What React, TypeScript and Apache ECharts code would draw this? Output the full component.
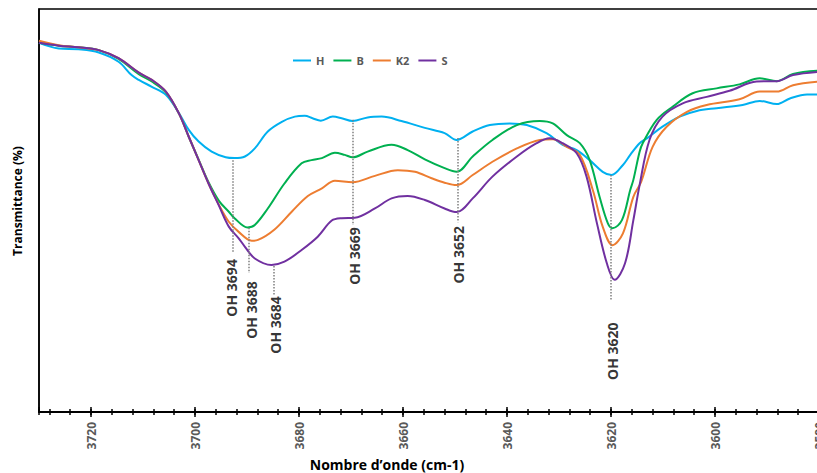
import React, { useEffect, useRef } from 'react';
import * as echarts from 'echarts';

const seriesNames = ['H', 'B', 'K2', 'S'];
const seriesColors = ['#00B0F0', '#00B050', '#ED7D31', '#7030A0'];

const H: [number, number][] = [
  [3730, 91.6], [3726.2, 90.2], [3722.4, 90.0], [3718.5, 89.2], [3714.7, 86.9], [3712.2, 83.6], [3710.8, 82.4],
  [3708.3, 80.7], [3705.6, 78.7], [3703.1, 74.2], [3701.2, 70.0], [3699.3, 67.1], [3696.8, 64.6], [3694.1, 63.2],
  [3692.4, 63.0], [3690.4, 63.4], [3688.5, 65.4], [3686.0, 69.6], [3683.3, 72.0], [3680.8, 73.3], [3678.9, 73.5],
  [3677.4, 72.9], [3675.8, 72.3], [3673.5, 73.3], [3671.8, 72.9], [3669.7, 72.2], [3666.8, 73.1], [3664.1, 73.3],
  [3660.3, 72.2], [3655.8, 70.5], [3652.0, 69.2], [3649.7, 67.5], [3646.6, 69.6], [3643.3, 71.2], [3639.5, 71.6],
  [3636.2, 71.2], [3632.4, 69.2], [3629.3, 66.3], [3626.6, 65.0], [3624.1, 62.5], [3621.6, 59.6], [3619.9, 58.8],
  [3617.7, 61.3], [3616.3, 63.8], [3614.5, 66.7], [3613.1, 67.9], [3610.1, 70.8], [3606.8, 73.3], [3603.5, 74.7],
  [3599.7, 75.4], [3594.7, 76.2], [3591.4, 77.2], [3588.1, 76.4], [3585.6, 77.8], [3582.3, 78.8], [3580, 78.8],
];

const B: [number, number][] = [
  [3730, 91.6], [3726.2, 90.9], [3722.4, 90.5], [3718.5, 89.8], [3714.7, 87.6], [3710.8, 83.8], [3708.3, 82.0],
  [3705.6, 79.3], [3703.1, 74.1], [3701.2, 68.3], [3699.3, 62.6], [3697.4, 57.0], [3695.4, 52.4], [3693.5, 49.7],
  [3692.4, 48.1], [3689.9, 45.8], [3688.5, 46.4], [3686.0, 50.5], [3682.8, 56.7], [3679.5, 61.7], [3677.6, 62.5],
  [3675.6, 63.0], [3673.1, 64.3], [3671.2, 63.8], [3669.7, 63.2], [3666.8, 64.6], [3662.2, 66.3], [3659.1, 65.0],
  [3655.8, 62.7], [3652.0, 60.5], [3649.7, 59.6], [3646.6, 63.4], [3642.8, 67.5], [3638.1, 71.2], [3633.7, 72.2],
  [3631.2, 71.6], [3628.5, 68.7], [3626.0, 66.7], [3624.1, 62.5], [3622.2, 53.4], [3620.6, 46.8], [3619.7, 45.6],
  [3617.9, 47.6], [3616.3, 55.1], [3615.7, 57.6], [3614.5, 64.6], [3613.9, 66.7], [3611.2, 72.5], [3608.1, 75.8],
  [3604.3, 79.1], [3599.7, 80.3], [3595.3, 81.3], [3591.4, 82.8], [3588.1, 82.1], [3585.0, 83.9], [3580, 84.7],
];

const K2: [number, number][] = [
  [3730, 92.1], [3726.2, 91.0], [3722.4, 90.5], [3718.5, 89.8], [3714.7, 87.8], [3710.8, 84.2], [3708.3, 82.4],
  [3705.6, 79.5], [3703.1, 74.1], [3701.2, 68.3], [3699.3, 62.5], [3697.4, 56.7], [3695.4, 51.4], [3693.5, 47.2],
  [3691.6, 44.7], [3689.1, 42.5], [3687.9, 42.7], [3684.7, 45.3], [3681.4, 49.7], [3678.3, 53.6], [3675.6, 55.5],
  [3673.1, 57.4], [3669.7, 57.0], [3665.4, 58.6], [3661.0, 60.0], [3657.7, 59.6], [3654.5, 58.0], [3652.0, 56.9],
  [3649.7, 56.3], [3646.6, 58.8], [3642.8, 62.1], [3638.1, 65.4], [3633.7, 67.5], [3631.2, 67.7], [3628.5, 65.8],
  [3626.0, 63.8], [3623.5, 55.1], [3621.6, 46.0], [3619.7, 41.4], [3617.7, 44.3], [3615.7, 53.4], [3614.2, 57.1],
  [3612.0, 65.8], [3609.3, 70.8], [3605.4, 74.5], [3601.6, 76.2], [3595.3, 77.6], [3591.4, 79.5], [3588.1, 79.5],
  [3585.0, 81.1], [3580, 82.0],
];

const S: [number, number][] = [
  [3730, 91.6], [3726.2, 90.9], [3722.4, 90.5], [3718.5, 89.8], [3714.7, 87.8], [3710.8, 84.2], [3708.3, 82.4],
  [3705.6, 79.5], [3703.1, 74.1], [3701.2, 68.3], [3699.3, 62.5], [3697.4, 56.7], [3695.4, 51.2], [3693.5, 46.0],
  [3691.6, 43.1], [3690.4, 41.0], [3688.5, 38.1], [3685.3, 36.5], [3682.8, 37.3], [3679.5, 40.2], [3676.4, 43.5],
  [3673.7, 47.5], [3671.8, 48.1], [3669.3, 48.2], [3665.4, 50.5], [3662.2, 53.0], [3659.1, 53.6], [3655.8, 52.6],
  [3652.0, 50.5], [3649.7, 49.6], [3646.6, 53.0], [3642.8, 58.4], [3638.1, 63.4], [3634.3, 66.7], [3631.8, 67.9],
  [3629.3, 66.7], [3626.6, 64.2], [3624.7, 58.4], [3622.7, 46.8], [3620.8, 36.9], [3619.3, 32.8], [3617.3, 36.9],
  [3615.7, 47.6], [3614.5, 56.3], [3612.6, 67.5], [3610.1, 73.3], [3606.2, 76.6], [3601.6, 78.2], [3597.2, 79.7],
  [3592.0, 82.0], [3588.1, 82.1], [3585.0, 83.6], [3580, 84.4],
];

const allSeries = [H, B, K2, S];

// Peak annotations (wavenumber of dotted guide, its vertical extent, label)
const peakLabels = ['OH 3694', 'OH 3688', 'OH 3684', 'OH 3669', 'OH 3652', 'OH 3620'];
const peakX = [3692.8, 3689.6, 3684.9, 3669.7, 3649.5, 3620.1];
const peakLineTop = [62.5, 45.7, 36.2, 72.5, 68.0, 58.8];
const peakLineBottom = [39.4, 34.5, 28.8, 46.4, 47.1, 27.8];
const peakLabelX = [3692.9, 3689.1, 3684.5, 3669.3, 3649.3, 3619.7];
const peakLabelY = [30.8, 25.3, 21.6, 38.7, 39.0, 15.1];

const X_MIN = 3580;
const X_MAX = 3730;
const FONT = '"Open Sans", "Noto Sans", sans-serif';

export default function App() {
  const ref = useRef<HTMLDivElement>(null);
  useEffect(() => {
    if (!ref.current) return;
    const chart = echarts.init(ref.current, null, { renderer: 'svg' });
    const xBase: any = {
      type: 'value',
      min: X_MIN,
      max: X_MAX,
      inverse: true,
      position: 'bottom',
      gridIndex: 0,
      splitLine: { show: false },
      axisLabel: { show: false },
      axisLine: { show: false },
    };
    const tickStyle = { color: '#000', width: 1.5 };
    const option: any = {
      animation: false,
      backgroundColor: '#fff',
      textStyle: { fontFamily: FONT },
      grid: {
        left: 39,
        top: 9,
        right: 11,
        bottom: 61,
        show: true,
        borderColor: '#000',
        borderWidth: 1.5,
        containLabel: false,
      },
      legend: {
        data: seriesNames,
        left: 288,
        top: 50,
        icon: 'rect',
        itemWidth: 18,
        itemHeight: 2,
        itemGap: 9,
        textStyle: { fontFamily: FONT, fontWeight: 'bold', fontSize: 11, color: '#595959' },
      },
      xAxis: [
        {
          ...xBase,
          interval: 20,
          axisLine: { show: true, lineStyle: { color: '#000', width: 2 } },
          axisTick: { show: true, length: 5, lineStyle: tickStyle },
          axisLabel: {
            show: true,
            rotate: 90,
            margin: 10,
            fontFamily: FONT,
            fontSize: 12,
            fontWeight: 'bold',
            color: '#595959',
            showMaxLabel: false,
            formatter: (v: number) => String(Math.round(v)),
          },
        },
        { ...xBase, interval: 20, axisTick: { show: true, inside: true, length: 5, lineStyle: tickStyle } },
        { ...xBase, interval: 4, axisTick: { show: true, length: 3, lineStyle: tickStyle } },
        { ...xBase, interval: 4, axisTick: { show: true, inside: true, length: 3, lineStyle: tickStyle } },
      ],
      yAxis: {
        type: 'value',
        min: 0,
        max: 100,
        axisLine: { show: true, lineStyle: { color: '#000', width: 1.5 } },
        axisTick: { show: false },
        axisLabel: { show: false },
        splitLine: { show: false },
      },
      graphic: [
        {
          type: 'text',
          x: 387,
          y: 464,
          style: {
            text: 'Nombre d’onde (cm-1)',
            fontFamily: FONT,
            fontWeight: 'bold',
            fontSize: 14,
            fill: '#000',
            textAlign: 'center',
            textVerticalAlign: 'middle',
          },
        },
        {
          type: 'text',
          x: 17,
          y: 201,
          rotation: Math.PI / 2,
          style: {
            text: 'Transmittance (%)',
            fontFamily: FONT,
            fontWeight: 'bold',
            fontSize: 12,
            fill: '#000',
            textAlign: 'center',
            textVerticalAlign: 'middle',
          },
        },
      ],
      series: [
        ...allSeries.map((d, i) => ({
          type: 'line',
          name: seriesNames[i],
          data: d,
          xAxisIndex: 0,
          showSymbol: false,
          symbol: 'none',
          smooth: 0.35,
          lineStyle: { color: seriesColors[i], width: 2 },
          itemStyle: { color: seriesColors[i] },
          z: 3,
        })),
        {
          type: 'scatter',
          name: 'annotations',
          xAxisIndex: 0,
          silent: true,
          symbolSize: 1,
          itemStyle: { color: 'transparent' },
          data: peakLabelX.map((x, i) => ({ value: [x, peakLabelY[i]], name: peakLabels[i] })),
          label: {
            show: true,
            formatter: '{b}',
            position: 'inside',
            rotate: 90,
            fontFamily: FONT,
            fontWeight: 'bold',
            fontSize: 14,
            color: '#000',
          },
          markLine: {
            silent: true,
            symbol: ['none', 'none'],
            label: { show: false },
            lineStyle: { color: '#7f7f7f', width: 1.5, type: [1.5, 1.5] },
            data: peakX.map((x, i) => [
              { coord: [x, peakLineTop[i]] },
              { coord: [x, peakLineBottom[i]] },
            ]),
          },
          z: 2,
        },
      ],
    };
    chart.setOption(option);
    return () => chart.dispose();
  }, []);
  return (
    <div
      style={{
        position: 'fixed',
        left: 0,
        top: 0,
        width: 817,
        height: 473,
        overflow: 'hidden',
        background: '#fff',
      }}
    >
      <div ref={ref} style={{ width: 830, height: 473 }} />
    </div>
  );
}
